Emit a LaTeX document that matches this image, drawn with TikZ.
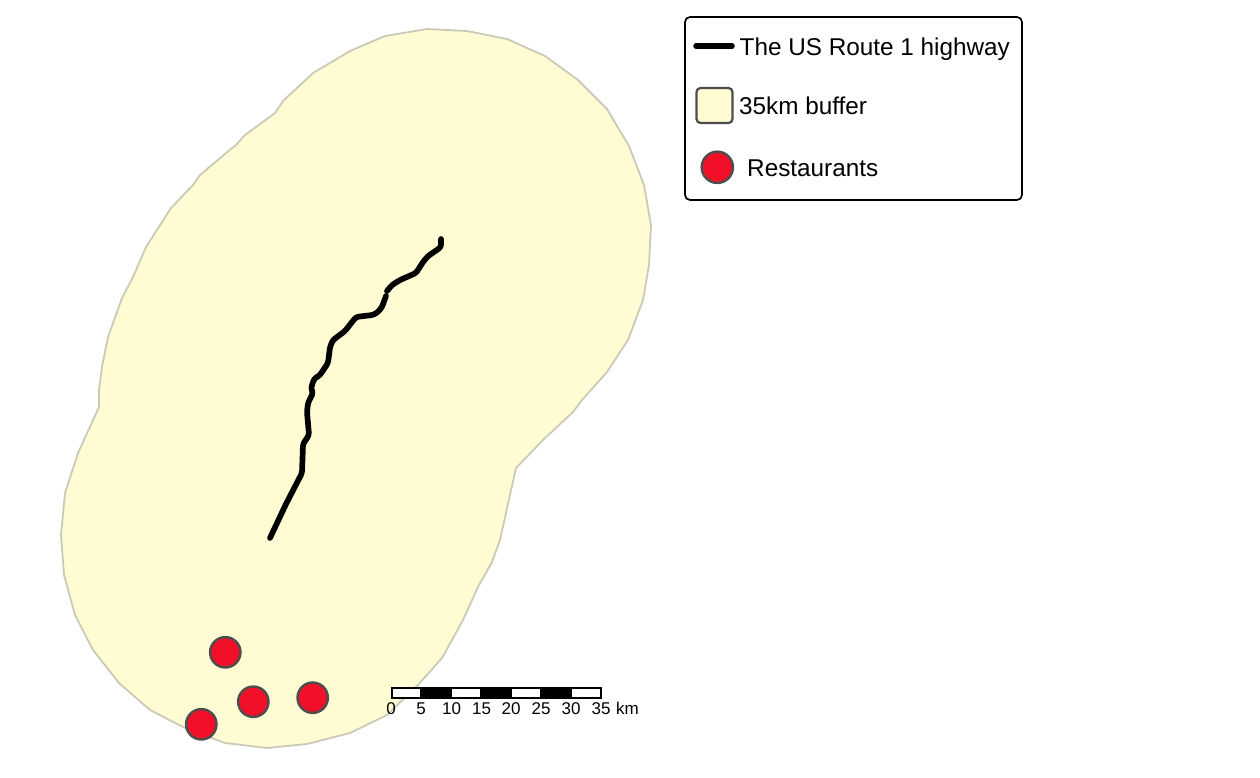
\documentclass[tikz,border=0pt]{standalone}
\usepackage{fontspec}
\setmainfont{Liberation Sans}
\definecolor{bufferfill}{HTML}{FFFBD2}
\definecolor{bufferline}{HTML}{CBCAB6}
\definecolor{restred}{HTML}{F20F28}
\definecolor{markline}{HTML}{4D4D4D}
\tikzset{
  bufferarea/.style={fill=bufferfill,draw=bufferline,line width=1.8pt,line join=round},
  road/.style={draw=black,line width=5.7pt,line cap=round,line join=round,rounded corners=2.5pt},
  restaurant/.style={circle,fill=restred,draw=markline,line width=2.4pt,minimum size=30.4pt,inner sep=0pt},
  legendbox/.style={draw=black,fill=white,line width=1.7pt,rounded corners=5pt},
  legendtext/.style={anchor=base west,inner sep=0pt,font=\fontsize{24.3}{28}\selectfont},
  barlabel/.style={anchor=base,inner sep=0pt,font=\fontsize{17}{20}\selectfont},
  barblack/.style={fill=black,draw=black,line width=2pt},
  barwhite/.style={fill=white,draw=black,line width=2pt},
}
\begin{document}
\begin{tikzpicture}[x=1pt,y=-1pt]
\useasboundingbox (0,0) rectangle (1260,778);
% buffer
\path[bufferarea] (350,51) -- (385,36) -- (427,29) -- (467,31) -- (507,39) -- (545,56) -- (578,80) -- (607,109) -- (629,146) -- (644,185) -- (651,225) -- (649,265) -- (643,300) -- (628,340) -- (607,372) -- (582,400) -- (573,412) -- (543,440) -- (516,468) -- (500,540) -- (492,562) -- (478,587) -- (463,620) -- (442,658) -- (418,685) -- (387,715) -- (350,733) -- (307,744) -- (267,748) -- (225,743) -- (185,728) -- (150,710) -- (119,683) -- (93,650) -- (75,615) -- (64,575) -- (61,535) -- (65,493) -- (78,453) -- (99,407) -- (99,390) -- (102,367) -- (108,337) -- (122,298) -- (133,277) -- (146,247) -- (171,208) -- (193,185) -- (200,175) -- (232,148) -- (235,146) -- (245,135) -- (275,113) -- (283,101) -- (313,73) -- cycle;
% road
\path[road] (441,239) -- (441,247) -- (434,252) -- (428,256) -- (423,262) -- (416,273) -- (400,280) -- (392,285) -- (387,291);
\path[road] (386,296) -- (382,307) -- (378,312) -- (373,315) -- (364,316) -- (356,317) -- (345,331) -- (333,340) -- (330,347) -- (328,363) -- (320,375) -- (314,379) -- (311,388) -- (313,393) -- (308,403) -- (307,412) -- (309,435) -- (303,444) -- (302,473) -- (286,504) -- (270,538);
% restaurants
\node[restaurant] (r1) at (225.3,652.3) {};
\node[restaurant] (r2) at (253.3,701.7) {};
\node[restaurant] (r3) at (312.7,697.7) {};
\node[restaurant] (r4) at (201.3,724.3) {};
% scale bar
\path[barwhite] (391.5,687.5) rectangle (421,697.5);
\path[barblack] (421,687.5) rectangle (451,697.5);
\path[barwhite] (451,687.5) rectangle (481,697.5);
\path[barblack] (481,687.5) rectangle (511,697.5);
\path[barwhite] (511,687.5) rectangle (541,697.5);
\path[barblack] (541,687.5) rectangle (571,697.5);
\path[barwhite] (571,687.5) rectangle (601,697.5);
\node[barlabel] (s0) at (391,714.5) {0};
\node[barlabel] (s5) at (421,714.5) {5};
\node[barlabel] (s10) at (451.5,714.5) {10};
\node[barlabel] (s15) at (481.5,714.5) {15};
\node[barlabel] (s20) at (511,714.5) {20};
\node[barlabel] (s25) at (541,714.5) {25};
\node[barlabel] (s30) at (571,714.5) {30};
\node[barlabel] (s35) at (601,714.5) {35};
\node[barlabel,anchor=base west] (skm) at (616,714.5) {km};
% legend
\path[legendbox] (685,17) rectangle (1022,200);
\path[road,line width=5.5pt] (696,46) -- (732,46);
\path[fill=bufferfill,draw=markline,line width=2.2pt,rounded corners=4pt] (696.5,88) rectangle (732.5,123);
\node[restaurant,minimum size=31.3pt] (lr) at (717.3,167.3) {};
\node[legendtext] (t1) at (739.5,56) {The US Route 1 highway};
\node[legendtext] (t2) at (739,115) {35km buffer};
\node[legendtext] (t3) at (747,177) {Restaurants};
\end{tikzpicture}
\end{document}
